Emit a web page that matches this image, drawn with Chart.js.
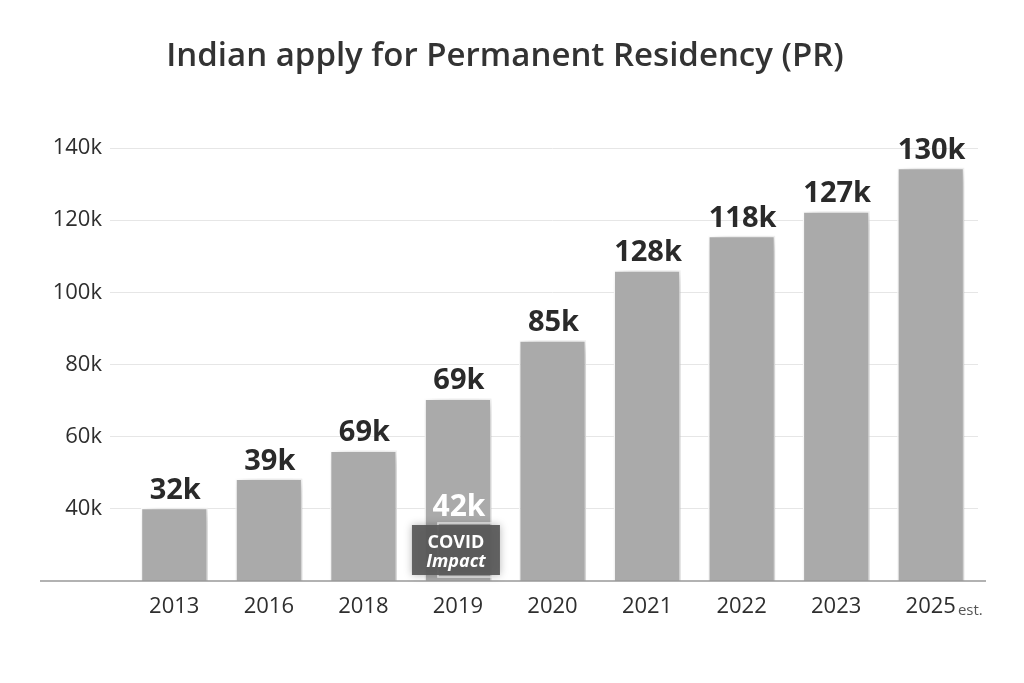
<!DOCTYPE html>
<html>
<head>
<meta charset="utf-8">
<script src="https://cdn.jsdelivr.net/npm/chart.js@4/dist/chart.umd.min.js"></script>
<style>
html,body{margin:0;padding:0;background:#fff;}
#wrap{width:1024px;height:683px;position:relative;}
</style>
</head>
<body>
<div id="wrap"><canvas id="c" width="1024" height="683"></canvas></div>
<script>
const titleText = 'Indian apply for Permanent Residency (PR)';
const years = ['2013','2016','2018','2019','2020','2021','2022','2023','2025'];
const barValues = [40300, 48400, 56200, 70600, 86700, 106100, 115700, 122500, 134500];
const valueLabels = ['32k','39k','69k','69k','85k','128k','118k','127k','130k'];
const yTickMin = 20000, yTickMax = 140000, yTickStep = 20000;
const covidYear = '2019';
const covidValueLabel = '42k';
const covidLines = ['COVID', 'Impact'];
const estYear = '2025';
const estSuffix = 'est.';

const FONT = "'Open Sans', 'Noto Sans', sans-serif";

const titlePlugin = {
  id: 'titleText',
  afterDraw(chart) {
    const ctx = chart.ctx;
    ctx.save();
    ctx.font = `600 33px ${FONT}`;
    ctx.fillStyle = '#333';
    ctx.textAlign = 'center';
    ctx.textBaseline = 'middle';
    ctx.fillText(titleText, 505, 57);
    ctx.restore();
  }
};

const shadowPlugin = {
  id: 'barShadow',
  beforeDatasetDraw(chart) {
    const ctx = chart.ctx;
    ctx.save();
    ctx.shadowColor = 'rgba(0,0,0,0.22)';
    ctx.shadowBlur = 14;
    ctx.shadowOffsetX = 6;
    ctx.shadowOffsetY = 2;
  },
  afterDatasetDraw(chart) {
    chart.ctx.restore();
  }
};

const baselinePlugin = {
  id: 'baseline',
  afterDatasetsDraw(chart) {
    const ctx = chart.ctx;
    const y = chart.scales.y.getPixelForValue(yTickMin);
    ctx.save();
    ctx.strokeStyle = '#999';
    ctx.lineWidth = 1.5;
    ctx.beginPath();
    ctx.moveTo(40, y);
    ctx.lineTo(986, y);
    ctx.stroke();
    ctx.restore();
  }
};

const labelsPlugin = {
  id: 'valueLabels',
  afterDatasetsDraw(chart) {
    const ctx = chart.ctx;
    const meta = chart.getDatasetMeta(0);
    ctx.save();
    meta.data.forEach((bar, i) => {
      ctx.font = `700 29px ${FONT}`;
      ctx.fillStyle = '#2a2a2a';
      ctx.textAlign = 'center';
      ctx.textBaseline = 'alphabetic';
      ctx.fillText(valueLabels[i], bar.x + 1, bar.y - 9);
      if (years[i] === covidYear) {
        const yb = chart.scales.y.getPixelForValue(yTickMin);
        ctx.strokeStyle = 'rgba(255,255,255,0.85)';
        ctx.lineWidth = 1.5;
        ctx.strokeRect(bar.x - 20, yb - 58, 61, 54);
        ctx.fillStyle = 'rgba(88,88,88,0.93)';
        ctx.shadowColor = 'rgba(0,0,0,0.3)';
        ctx.shadowBlur = 8;
        ctx.fillRect(bar.x - 46, yb - 56, 88, 50);
        ctx.shadowBlur = 0;
        ctx.fillStyle = '#fff';
        ctx.font = `700 30px ${FONT}`;
        ctx.fillText(covidValueLabel, bar.x + 1, yb - 65);
        ctx.font = `700 18px ${FONT}`;
        ctx.fillText(covidLines[0], bar.x - 2, yb - 33);
        ctx.font = `italic 700 18px ${FONT}`;
        ctx.fillText(covidLines[1], bar.x - 2, yb - 14);
      }
    });
    const xs = chart.scales.x;
    const idx = years.indexOf(estYear);
    const x = xs.getPixelForValue(idx);
    ctx.font = `400 22px ${FONT}`;
    const w = ctx.measureText(estYear).width;
    ctx.font = `400 15px ${FONT}`;
    ctx.fillStyle = '#555';
    ctx.textAlign = 'left';
    ctx.textBaseline = 'alphabetic';
    ctx.fillText(estSuffix, x + w/2 + 2, 615);
    ctx.restore();
  }
};

new Chart(document.getElementById('c'), {
  type: 'bar',
  data: {
    labels: years,
    datasets: [{
      data: barValues,
      backgroundColor: '#aaaaaa',
      borderColor: '#ffffff',
      borderWidth: 1.5,
      borderSkipped: 'bottom',
      categoryPercentage: 0.71,
      barPercentage: 1.0
    }]
  },
  options: {
    responsive: false,
    animation: false,
    devicePixelRatio: 1,
    layout: { padding: { top: 148, right: 46, left: 0, bottom: 0 } },
    plugins: { legend: { display: false }, tooltip: { enabled: false }, title: { display: false } },
    scales: {
      x: {
        grid: { display: false, drawTicks: false },
        border: { display: false },
        ticks: { color: '#2e2e2e', font: { family: FONT, size: 22 }, padding: 13, maxRotation: 0 },
        afterFit(s) { s.height = 102; }
      },
      y: {
        min: yTickMin,
        max: yTickMax,
        border: { display: false },
        grid: {
          color: ctx => ctx.tick && ctx.tick.value === yTickMin ? 'rgba(0,0,0,0)' : '#e6e6e6',
          lineWidth: 1,
          drawTicks: true,
          tickLength: 17
        },
        ticks: {
          stepSize: yTickStep,
          color: '#2e2e2e',
          padding: 8,
          font: { family: FONT, size: 22 },
          callback: v => v === yTickMin ? '' : (v / 1000) + 'k'
        },
        afterFit(s) { s.width = 127; }
      }
    }
  },
  plugins: [titlePlugin, shadowPlugin, baselinePlugin, labelsPlugin]
});
</script>
</body>
</html>
